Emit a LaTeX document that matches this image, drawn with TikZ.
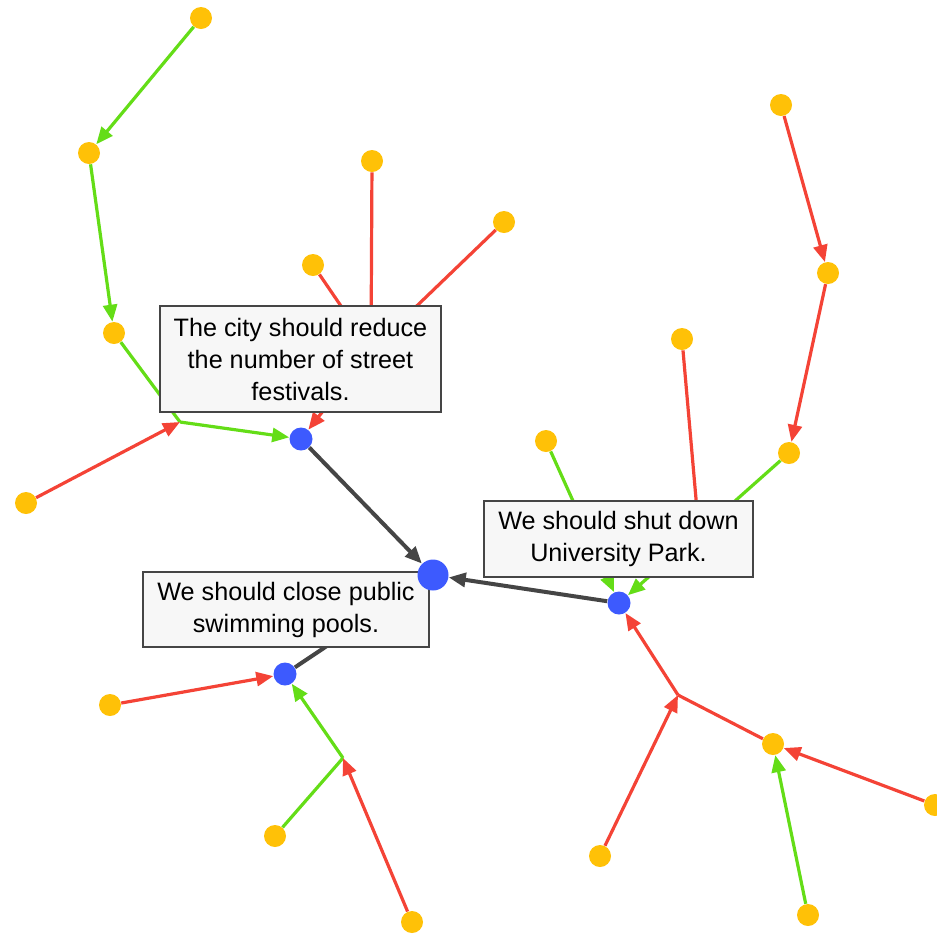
\documentclass[tikz,border=0pt]{standalone}
\usepackage{fontspec}
\setmainfont{Liberation Sans}
\usetikzlibrary{arrows.meta}
\definecolor{premisecol}{HTML}{FFC107}
\definecolor{claimcol}{HTML}{3D5AFE}
\definecolor{attackcol}{HTML}{F44336}
\definecolor{supportcol}{HTML}{64DD17}
\definecolor{infercol}{HTML}{454545}
\pgfdeclarelayer{links}
\pgfdeclarelayer{boxes}
\pgfsetlayers{links,boxes,main}
\tikzset{>={Triangle[length=8.5pt,width=7pt]}}
\tikzset{
  premise/.style={circle,fill=premisecol,inner sep=0pt,minimum size=11pt},
  claim/.style={circle,fill=claimcol,inner sep=0pt,minimum size=11.5pt},
  thesis/.style={circle,fill=claimcol,inner sep=0pt,minimum size=15.5pt},
  support/.style={draw=supportcol,line width=1.6pt},
  attack/.style={draw=attackcol,line width=1.6pt},
  infer/.style={draw=infercol,line width=2pt},
  claimbox/.style={draw=infercol,fill=black!3,line width=1pt,align=center,
    font=\fontsize{12.6pt}{16pt}\selectfont,inner sep=0pt}
}

\begin{document}
\begin{tikzpicture}[x=0.5pt,y=-0.5pt]
  \useasboundingbox (0,0) rectangle (937,933);

  % Vertices
  \node[thesis] (t) at (433,575) {};
  \node[claim] (c1) at (301,439) {};
  \node[claim] (c2) at (619,603) {};
  \node[claim] (c3) at (285,674) {};

  \node[premise] (p1) at (201,18) {};
  \node[premise] (p2) at (89,153) {};
  \node[premise] (p3) at (114,333) {};
  \node[premise] (p4) at (372,161) {};
  \node[premise] (p5) at (504,222) {};
  \node[premise] (p6) at (313,265) {};
  \node[premise] (p7) at (26,503) {};
  \node[premise] (p8) at (781,105) {};
  \node[premise] (p9) at (828,273) {};
  \node[premise] (p10) at (789,453) {};
  \node[premise] (p11) at (682,339) {};
  \node[premise] (p12) at (546,441) {};
  \node[premise] (p13) at (773,744) {};
  \node[premise] (p14) at (935,805) {};
  \node[premise] (p15) at (600,856) {};
  \node[premise] (p16) at (808,915) {};
  \node[premise] (p17) at (110,705) {};
  \node[premise] (p18) at (275,836) {};
  \node[premise] (p19) at (412,922) {};

  % Junctions
  \coordinate (j1) at (180,422);
  \coordinate (j2) at (371,350);
  \coordinate (j3) at (699,533);
  \coordinate (j4) at (678,695);
  \coordinate (j5) at (343,758);

  % Labels
  \begin{pgfonlayer}{boxes}
    \node[claimbox,minimum width=140.5pt,minimum height=53pt] (c1n) at (300.5,359)
      {The city should reduce\\the number of street\\festivals.};
    \node[claimbox,minimum width=134.5pt,minimum height=38pt] (c2n) at (618.5,539)
      {We should shut down\\University Park.};
    \node[claimbox,minimum width=143pt,minimum height=37.5pt] (c3n) at (286,609.5)
      {We should close public\\swimming pools.};
  \end{pgfonlayer}

  % Lines
  \begin{pgfonlayer}{links}
    \draw[infer,->] (c1) -- (t);
    \draw[infer,->] (c2) -- (t);
    \draw[infer,->] (c3) -- (t);

    \draw[support,->] (p1) -- (p2);
    \draw[support,->] (p2) -- (p3);
    \draw[support] (p3) -- (j1);
    \draw[support,->] (j1) -- (c1);
    \draw[attack,->] (p7) -- (j1);
    \draw[attack] (p4) -- (j2);
    \draw[attack,->] (j2) -- (c1);
    \draw[attack,->] (p6) -- (j2);
    \draw[attack,->] (p5) -- (j2);

    \draw[attack,->] (p8) -- (p9);
    \draw[attack,->] (p9) -- (p10);
    \draw[support] (p10) -- (j3);
    \draw[support,->] (j3) -- (c2);
    \draw[attack,->] (p11) -- (j3);
    \draw[support,->] (p12) -- (c2);
    \draw[attack] (p13) -- (j4);
    \draw[attack,->] (j4) -- (c2);
    \draw[attack,->] (p15) -- (j4);
    \draw[attack,->] (p14) -- (p13);
    \draw[support,->] (p16) -- (p13);

    \draw[attack,->] (p17) -- (c3);
    \draw[support] (p18) -- (j5);
    \draw[support,->] (j5) -- (c3);
    \draw[attack,->] (p19) -- (j5);
  \end{pgfonlayer}
\end{tikzpicture}
\end{document}
